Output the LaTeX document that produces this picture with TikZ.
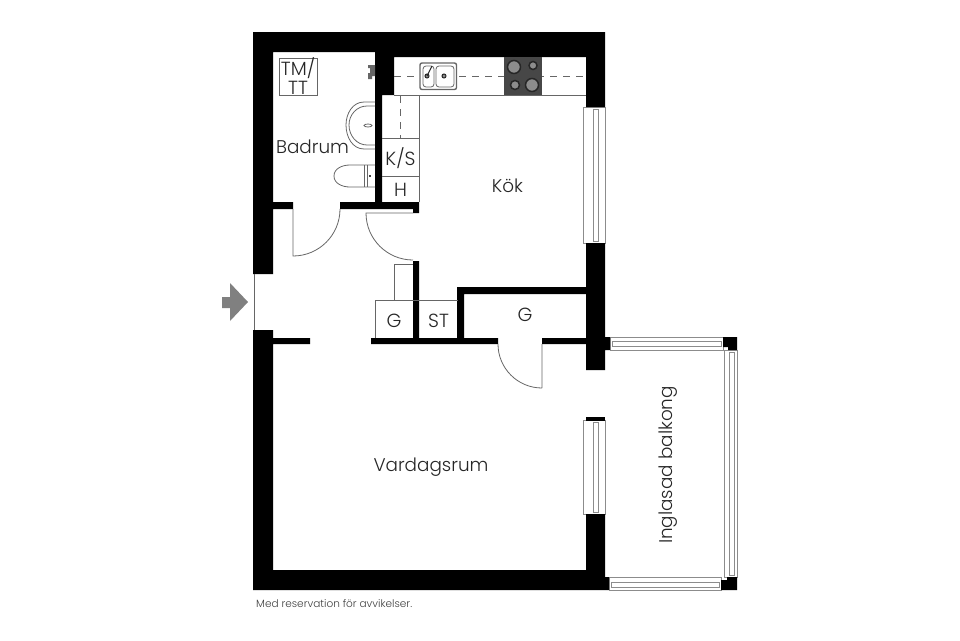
\documentclass[tikz,border=0pt]{standalone}
\usepackage{fontspec}
\setmainfont{Poppins Light}
\tikzset{
  wall/.style={fill=black},
  thin line/.style={draw=black!60, line width=.8pt},
  glass/.style={draw=black!45, line width=.9pt, fill=white},
  hob/.style={draw=black!85, fill=black!45, line width=1.5pt},
  room/.style={inner sep=0pt, text=black!85, font=\fontsize{18.4}{20}\selectfont},
  unit/.style={inner sep=0pt, text=black!85, font=\fontsize{19}{19.5}\selectfont, align=center}
}

\begin{document}
\begin{tikzpicture}[x=1pt, y=-1pt]
        \useasboundingbox (0, 0) rectangle (960, 640);
        % windows
        \draw[glass] (583, 107) rectangle (605, 243);
        \draw[glass] (593, 109) rectangle (598, 241);
        \draw[glass] (583, 420) rectangle (605, 514);
        \draw[glass] (593, 422) rectangle (598, 512);
        \draw[glass] (610, 337) rectangle (723, 350);
        \draw[glass] (612, 341) rectangle (721, 346);
        \draw[glass] (724, 350) rectangle (737, 577);
        \draw[glass] (729, 352) rectangle (734, 575);
        \draw[glass] (609, 577) rectangle (721, 590);
        \draw[glass] (611, 582) rectangle (719, 587);
        % walls
        \fill[wall] (253, 32) -- (605, 32) -- (605, 107) -- (586, 107) -- (586, 57) -- (394, 57)
          -- (394, 95) -- (382, 95) -- (382, 202) -- (419, 202) -- (419, 213) -- (413, 213)
          -- (413, 209) -- (340, 209) -- (340, 202) -- (375, 202) -- (375, 52) -- (273, 52)
          -- (273, 202) -- (293, 202) -- (293, 209) -- (273, 209) -- (273, 274) -- (253, 274) -- cycle;
        \fill[wall] (253, 330) -- (273, 330) -- (273, 338) -- (310, 338) -- (310, 344) -- (273, 344)
          -- (273, 570) -- (586, 570) -- (586, 514) -- (605, 514) -- (605, 577) -- (609, 577)
          -- (609, 590) -- (253, 590) -- cycle;
        \fill[wall] (413, 261) -- (419, 261) -- (419, 338) -- (457, 338) -- (457, 287) -- (586, 287)
          -- (586, 243) -- (605, 243) -- (605, 337) -- (610, 337) -- (610, 350) -- (605, 350)
          -- (605, 370) -- (586, 370) -- (586, 344) -- (542, 344) -- (542, 338) -- (586, 338)
          -- (586, 294) -- (464, 294) -- (464, 338) -- (498, 338) -- (498, 344) -- (371, 344)
          -- (371, 338) -- (413, 338) -- cycle;
        \fill[wall] (586, 417) rectangle (605, 421);
        \fill[wall] (723, 337) -- (737, 337) -- (737, 350) -- (728, 350) -- (728, 347) -- (723, 347) -- cycle;
        \fill[wall] (727, 577) -- (737, 577) -- (737, 590) -- (721, 590) -- (721, 580) -- (727, 580) -- cycle;
        % entrance
        \draw[thin line] (254, 274) -- (254, 330);
        \fill[black!50] (222, 297) -- (230, 297) -- (230, 283) -- (248, 302) -- (230, 321) -- (230, 308) -- (222, 308) -- cycle;
        % doors
        \draw[thin line] (293, 209) -- (293, 256) arc[start angle=270, end angle=360, radius=47pt];
        \draw[thin line] (413, 213) -- (366, 213) arc[start angle=180, end angle=270, radius=47pt];
        \draw[thin line] (542, 344) -- (542, 388) (498, 344) arc[start angle=180, end angle=270, radius=44pt];
        % closets
        \draw[thin line] (413, 264) -- (394, 264) -- (394, 300);
        \draw[thin line] (375, 338) -- (375, 300) -- (458, 300);
        % kitchen counter
        \draw[thin line] (394, 95.5) -- (586, 95.5);
        \draw[thin line] (382, 138) -- (419, 138) (382, 176) -- (419, 176);
        \draw[thin line] (419, 95) -- (419, 202);
        \draw[thin line, dash pattern=on 7pt off 6pt] (394, 76) -- (586, 76);
        \draw[thin line, dash pattern=on 7pt off 6pt] (400, 96) -- (400, 138);
        % sink
        \draw[draw=black!60, line width=1.4pt, fill=white, rounded corners=2pt] (420, 63) rectangle (456.5, 89.5);
        \draw[thin line, rounded corners=3pt] (423, 66) rectangle (434, 87);
        \draw[thin line, rounded corners=3pt] (436, 66) rectangle (454, 87);
        \foreach \x in {427, 444} {
          \draw[draw=black!85, fill=black!45, line width=1pt] (\x, 76) circle (2pt);
        }
        \draw[black!85, line width=1pt] (427, 76) -- (432, 66);
        % stove
        \fill[black!72] (504, 57) rectangle (542, 95);
        \draw[hob] (514, 67) circle (6.5pt);
        \draw[hob] (533, 65.5) circle (4pt);
        \draw[hob] (515, 85) circle (4.5pt);
        \draw[hob] (532, 85) circle (6.5pt);
        % bathroom
        \draw[thin line] (279, 58) rectangle (317, 95);
        \draw[thin line] (375, 102) -- (364, 102) to[out=180, in=90] (346, 125) to[out=270, in=180] (364, 149) -- (375, 149);
        \draw[thin line] (375, 106) -- (367, 106) to[out=180, in=90] (349, 125) to[out=270, in=180] (367, 145) -- (375, 145);
        \draw[thin line] (368, 125.5) ellipse [x radius=4pt, y radius=1.5pt];
        \draw[thin line] (375, 165) -- (350, 165) to[out=180, in=90] (334, 176) to[out=270, in=180] (350, 187) -- (375, 187);
        \draw[thin line] (364, 165) -- (364, 187);
        \draw[thin line] (367, 165) -- (367, 187);
        \fill[black!75] (369, 174.5) rectangle (371, 177);
        \fill[black!60] (368, 65) rectangle (375, 68) (370, 68) rectangle (375, 76) (368, 73) rectangle (372, 79);
        % labels
        \node[unit] (tm) at (298, 76) {TM/\\TT};
        \node[room] (badrum) at (312.5, 147) {Badrum};
        \node[room] (kok) at (507.5, 186) {Kök};
        \node[unit] (ks) at (400.5, 158) {K/S};
        \node[unit] (h) at (400.5, 190) {H};
        \node[unit] (g1) at (394, 320.5) {G};
        \node[unit] (st) at (438.5, 320.5) {ST};
        \node[unit] (g2) at (525, 314.5) {G};
        \node[room] (vardagsrum) at (431, 467.5) {Vardagsrum};
        \node[room, rotate=90] (balkong) at (668, 465) {Inglasad balkong};
        \node[inner sep=0pt, anchor=west, text=black!75, font=\fontsize{10.5}{12}\selectfont] (note) at (256, 604) {Med reservation för avvikelser.};
      \end{tikzpicture}
\end{document}
